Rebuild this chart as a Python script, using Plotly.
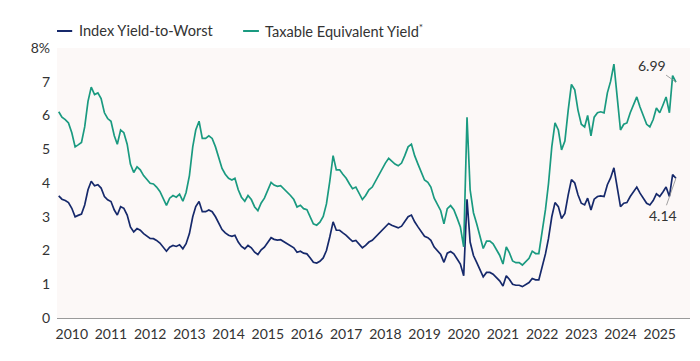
import pandas as pd
import plotly.graph_objects as go

# Monthly observations (first of month), Sep 2009 .. Jun 2025
dates = pd.date_range("2009-09-01", periods=190, freq="MS")

index_ytw = [
    3.62, 3.52, 3.48, 3.42, 3.25, 3.00, 3.04, 3.08, 3.35, 3.80,
    4.05, 3.92, 3.95, 3.85, 3.60, 3.50, 3.45, 3.20, 3.05, 3.30,
    3.25, 3.05, 2.70, 2.55, 2.65, 2.60, 2.50, 2.42, 2.36, 2.35,
    2.30, 2.22, 2.10, 1.98, 2.10, 2.15, 2.12, 2.17, 2.05, 2.20,
    2.50, 3.00, 3.30, 3.45, 3.15, 3.15, 3.20, 3.15, 3.00, 2.80,
    2.62, 2.52, 2.45, 2.42, 2.45, 2.25, 2.12, 2.05, 2.15, 2.08,
    1.95, 1.88, 2.02, 2.10, 2.25, 2.38, 2.33, 2.31, 2.32, 2.26,
    2.22, 2.15, 2.08, 1.95, 1.98, 1.92, 1.90, 1.78, 1.65, 1.63,
    1.68, 1.78, 2.00, 2.40, 2.85, 2.60, 2.60, 2.52, 2.45, 2.35,
    2.27, 2.30, 2.18, 2.08, 2.15, 2.25, 2.30, 2.40, 2.50, 2.62,
    2.72, 2.80, 2.75, 2.70, 2.67, 2.72, 2.85, 3.00, 3.05, 2.85,
    2.70, 2.55, 2.42, 2.38, 2.30, 2.10, 2.00, 1.88, 1.65, 1.92,
    1.97, 1.90, 1.75, 1.60, 1.25, 3.52, 2.25, 1.85, 1.65, 1.42,
    1.22, 1.35, 1.35, 1.30, 1.20, 1.10, 0.95, 1.25, 1.15, 1.00,
    0.97, 0.97, 0.93, 0.98, 1.05, 1.17, 1.13, 1.13, 1.50, 1.90,
    2.35, 3.00, 3.42, 3.30, 2.95, 3.10, 3.65, 4.10, 4.00, 3.65,
    3.40, 3.35, 3.55, 3.20, 3.52, 3.60, 3.62, 3.60, 3.95, 4.15,
    4.45, 3.85, 3.30, 3.40, 3.42, 3.60, 3.74, 3.88, 3.70, 3.55,
    3.40, 3.35, 3.48, 3.68, 3.60, 3.74, 3.88, 3.60, 4.25, 4.14,
]

taxable_equiv_yield = [
    6.11, 5.95, 5.88, 5.78, 5.49, 5.07, 5.13, 5.20, 5.66, 6.42,
    6.84, 6.62, 6.67, 6.50, 6.08, 5.91, 5.83, 5.40, 5.15, 5.57,
    5.49, 5.15, 4.56, 4.31, 4.48, 4.39, 4.22, 4.09, 3.99, 3.97,
    3.88, 3.75, 3.55, 3.34, 3.55, 3.63, 3.58, 3.67, 3.46, 3.72,
    4.22, 5.07, 5.57, 5.83, 5.32, 5.32, 5.40, 5.32, 5.07, 4.73,
    4.43, 4.26, 4.14, 4.09, 4.14, 3.80, 3.58, 3.46, 3.63, 3.51,
    3.29, 3.18, 3.41, 3.55, 3.80, 4.02, 3.94, 3.90, 3.92, 3.82,
    3.75, 3.63, 3.51, 3.29, 3.34, 3.24, 3.21, 3.01, 2.79, 2.75,
    2.84, 3.01, 3.38, 4.05, 4.81, 4.39, 4.39, 4.26, 4.14, 3.97,
    3.83, 3.88, 3.68, 3.51, 3.63, 3.80, 3.88, 4.05, 4.22, 4.43,
    4.59, 4.73, 4.64, 4.56, 4.51, 4.59, 4.81, 5.07, 5.15, 4.81,
    4.56, 4.31, 4.09, 4.02, 3.88, 3.55, 3.38, 3.18, 2.79, 3.24,
    3.33, 3.21, 2.96, 2.70, 2.11, 5.95, 3.80, 3.12, 2.79, 2.40,
    2.06, 2.28, 2.28, 2.20, 2.03, 1.86, 1.60, 2.11, 1.94, 1.69,
    1.64, 1.64, 1.57, 1.66, 1.77, 1.98, 1.91, 1.91, 2.53, 3.21,
    3.97, 5.07, 5.78, 5.57, 4.98, 5.24, 6.16, 6.92, 6.76, 6.16,
    5.74, 5.66, 6.00, 5.40, 5.95, 6.08, 6.11, 6.08, 6.67, 7.01,
    7.52, 6.50, 5.57, 5.74, 5.78, 6.08, 6.32, 6.55, 6.25, 6.00,
    5.74, 5.66, 5.88, 6.22, 6.08, 6.32, 6.55, 6.08, 7.18, 6.99,
]

y_tick_vals = [0, 1, 2, 3, 4, 5, 6, 7, 8]
y_tick_text = ["0", "1", "2", "3", "4", "5", "6", "7", "8%"]

series_names = ["Index Yield-to-Worst", "Taxable Equivalent Yield<sup>*</sup>"]

NAVY = "#16296b"
TEAL = "#1a9a80"
TEXT = "#333333"
FONT = "Lato, 'Open Sans', sans-serif"

fig = go.Figure()
fig.add_trace(go.Scatter(x=dates, y=index_ytw, mode="lines", name=series_names[0],
                         line=dict(color=NAVY, width=1.7), showlegend=False))
fig.add_trace(go.Scatter(x=dates, y=taxable_equiv_yield, mode="lines", name=series_names[1],
                         line=dict(color=TEAL, width=1.7), showlegend=False))

# custom legend (short line samples)
leg_y = 1.063
for (x0, x1, tx), name, col in zip([(0.0, 0.024, 0.031), (0.294, 0.319, 0.326)], series_names, [NAVY, TEAL]):
    fig.add_shape(type="line", xref="paper", yref="paper", x0=x0, x1=x1, y0=leg_y, y1=leg_y,
                  line=dict(color=col, width=2))
    fig.add_annotation(xref="paper", yref="paper", x=tx, y=leg_y, text=name, showarrow=False,
                       xanchor="left", yanchor="middle", font=dict(size=14.6, color=TEXT, family=FONT))

# end-value labels
fig.add_annotation(x=dates[-1], y=taxable_equiv_yield[-1], text=f"{taxable_equiv_yield[-1]:.2f}",
                   showarrow=True, arrowhead=0, arrowwidth=0.8, arrowcolor="#8a8a8a",
                   ax=-24, ay=-17, font=dict(size=14, color=TEXT, family=FONT))
fig.add_annotation(x=dates[-1], y=index_ytw[-1], text=f"{index_ytw[-1]:.2f}",
                   showarrow=True, arrowhead=0, arrowwidth=0.8, arrowcolor="#8a8a8a",
                   ax=-13, ay=37, font=dict(size=14, color=TEXT, family=FONT))

# the page body adds an 8px offset, so the figure is 8px smaller than the window
fig.update_layout(
    width=692, height=353,
    margin=dict(l=49, r=10, t=40, b=43),
    paper_bgcolor="white",
    plot_bgcolor="#fcf8f7",
    font=dict(family=FONT, size=14, color=TEXT),
    showlegend=False,
)
fig.update_xaxes(
    type="date",
    range=["2009-08-16", "2025-10-10"],
    tick0="2010-01-01", dtick="M12", tickformat="%Y",
    showgrid=False, zeroline=False,
    showline=True, linecolor="#9a9a9a", linewidth=1,
    ticks="", ticklabelstandoff=3,
    tickfont=dict(size=14, color=TEXT),
)
fig.update_yaxes(
    range=[0, 8],
    tickvals=y_tick_vals, ticktext=y_tick_text,
    showgrid=False, zeroline=False, showline=False,
    ticks="", ticklabelstandoff=6,
    tickfont=dict(size=14, color=TEXT),
)

fig.write_html("out.html")
